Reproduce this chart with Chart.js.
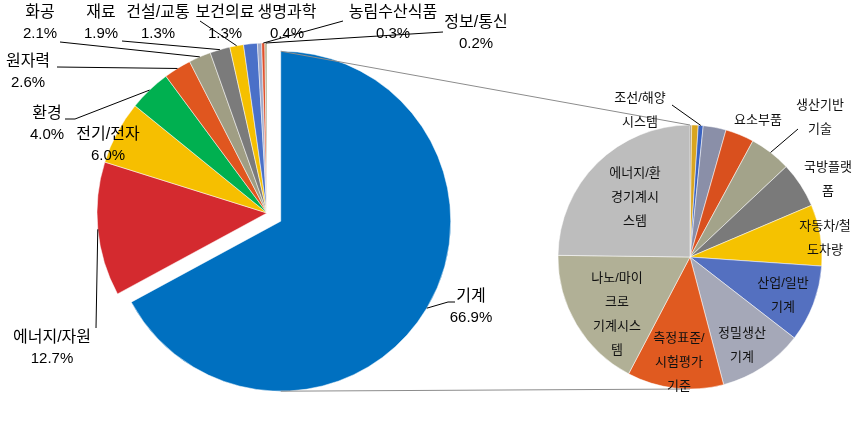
<!DOCTYPE html>
<html lang="ko">
<head>
<meta charset="utf-8">
<title>분야별 비중</title>
<script src="https://cdn.jsdelivr.net/npm/chart.js@4.4.1/dist/chart.umd.min.js"></script>
<style>
  html, body { margin: 0; padding: 0; background: #fff; }
  #wrap { position: relative; width: 859px; height: 430px; }
  #wrap canvas { position: absolute; left: 0; top: 0; }
</style>
</head>
<body>
<div id="wrap">
  <canvas id="mainPie" width="859" height="430"></canvas>
  <canvas id="subPie" width="859" height="430"></canvas>
</div>
<script>
// 전체 분야 (왼쪽 파이)
const mainLabels = ['기계', '에너지/자원', '전기/전자', '환경', '원자력', '화공', '재료', '건설/교통', '보건의료', '생명과학', '농림수산식품', '정보/통신'];
const mainValues = [66.9, 12.7, 6.0, 4.0, 2.6, 2.1, 1.9, 1.3, 1.3, 0.4, 0.3, 0.2];
const mainColors = ['#0070C0', '#D42A2F', '#F6BF00', '#00B050', '#E0561F', '#A09E84', '#7B7B7B', '#F5C000', '#4A70C8', '#A0AAC8', '#E0502A', '#B0B090'];

// 기계 세부 분야 (오른쪽 파이)
const subLabels = ['', '', '조선/해양시스템', '', '요소부품', '생산기반기술', '국방플랫폼', '자동차/철도차량', '산업/일반기계', '정밀생산기계', '측정표준/시험평가기준', '나노/마이크로기계시스템', '에너지/환경기계시스템'];
const subValues = [0.2, 0.8, 0.6, 2.8, 3.5, 5.1, 5.6, 7.5, 9.4, 10.4, 11.8, 17.5, 24.8];
const subColors = ['#7F6A4A', '#D9A520', '#3A62C0', '#8A8FA8', '#D9501E', '#A3A38A', '#7A7A7A', '#F5C200', '#5470C0', '#A5A8B8', '#E05A20', '#B1B096', '#BDBDBD'];
// 줄바꿈된 표시 텍스트
const subLines = [[], [], ['조선/해양', '시스템'], [], ['요소부품'], ['생산기반', '기술'], ['국방플랫', '폼'], ['자동차/철', '도차량'], ['산업/일반', '기계'], ['정밀생산', '기계'], ['측정표준/', '시험평가', '기준'], ['나노/마이', '크로', '기계시스', '템'], ['에너지/환', '경기계시', '스템']];

const EXPLODE = 16;
const FONT_NAME = '16px "Liberation Sans", "Noto Sans CJK KR", sans-serif';
const FONT_PCT = '15px "Liberation Sans", "Noto Sans CJK KR", sans-serif';
const FONT_SUB = '13px "Liberation Sans", "Noto Sans CJK KR", sans-serif';

// 라벨 위치 (파이 중심 기준)
const mainLayout = [
    { x: 204, y: 84, lead: [[188, 89], [181, 89]] },
    { x: -215, y: 125, lead: [[-171, 115]] },
    { x: -159, y: -78 },
    { x: -220, y: -99, lead: [[-202, -94], [-192, -94]] },
    { x: -239, y: -151, lead: [[-210, -146]] },
    { x: -227, y: -200, lead: [[-207, -171]] },
    { x: -166, y: -200, lead: [[-145, -172]] },
    { x: -109, y: -200, lead: [[-67, -192]] },
    { x: -42, y: -200 },
    { x: 20, y: -200 },
    { x: 126, y: -200, lead: [[76, -192]] },
    { x: 209, y: -190, lead: [[176, -181]] }
];
const subLayout = [
    null, null,
    { x: -50, y: -159, lead: [[-18, -152]] },
    null,
    { x: 68, y: -137 },
    { x: 130, y: -152, lead: [[108, -128]] },
    { x: 138, y: -90 },
    { x: 135, y: -31 },
    { x: 93, y: 26 },
    { x: 52, y: 76 },
    { x: -11, y: 81 },
    { x: -73, y: 21 },
    { x: -55, y: -84 }
];

function arcEdge(arc, r) {
    const mid = (arc.startAngle + arc.endAngle) / 2;
    return [arc.x + Math.cos(mid) * r, arc.y + Math.sin(mid) * r];
}

function drawLeader(ctx, cx, cy, pts, end) {
    ctx.save();
    ctx.strokeStyle = '#000';
    ctx.lineWidth = 1;
    ctx.beginPath();
    ctx.moveTo(cx + pts[0][0], cy + pts[0][1]);
    for (let i = 1; i < pts.length; i++) ctx.lineTo(cx + pts[i][0], cy + pts[i][1]);
    ctx.lineTo(end[0], end[1]);
    ctx.stroke();
    ctx.restore();
}

const explodePlugin = {
    id: 'explode',
    afterUpdate(chart) {
        const arc = chart.getDatasetMeta(0).data[0];
        const mid = (arc.startAngle + arc.endAngle) / 2;
        arc.x += Math.cos(mid) * EXPLODE;
        arc.y += Math.sin(mid) * EXPLODE;
    }
};

const mainLabelPlugin = {
    id: 'mainLabels',
    afterDraw(chart) {
        const ctx = chart.ctx;
        const area = chart.chartArea;
        const cx = (area.left + area.right) / 2;
        const cy = (area.top + area.bottom) / 2;
        const arcs = chart.getDatasetMeta(0).data;
        ctx.save();
        ctx.fillStyle = '#000';
        ctx.textAlign = 'center';
        ctx.textBaseline = 'middle';
        mainLabels.forEach((name, i) => {
            const l = mainLayout[i];
            if (!l) return;
            if (l.lead) drawLeader(ctx, cx, cy, l.lead, arcEdge(arcs[i], arcs[i].outerRadius));
            ctx.font = FONT_NAME;
            ctx.fillText(name, cx + l.x, cy + l.y);
            ctx.font = FONT_PCT;
            ctx.fillText(mainValues[i].toFixed(1) + '%', cx + l.x, cy + l.y + 21);
        });
        ctx.restore();
    }
};

const mainChart = new Chart(document.getElementById('mainPie'), {
    type: 'pie',
    data: {
        labels: mainLabels,
        datasets: [{
            data: mainValues,
            backgroundColor: mainColors,
            borderWidth: 0.5,
            borderColor: '#ffffff'
        }]
    },
    options: {
        responsive: false,
        animation: false,
        events: [],
        radius: 170,
        layout: { padding: { left: 0, right: 325, top: 0, bottom: 4 } },
        plugins: { legend: { display: false }, tooltip: { enabled: false } }
    },
    plugins: [explodePlugin, mainLabelPlugin]
});

const subLabelPlugin = {
    id: 'subLabels',
    afterDraw(chart) {
        const ctx = chart.ctx;
        const arcs = chart.getDatasetMeta(0).data;
        const cx = arcs[0].x;
        const cy = arcs[0].y;
        const r = arcs[0].outerRadius;

        // 두 파이를 잇는 선
        const blue = mainChart.getDatasetMeta(0).data[0];
        ctx.save();
        ctx.strokeStyle = '#8C8C8C';
        ctx.lineWidth = 1;
        ctx.beginPath();
        ctx.moveTo(blue.x + Math.cos(blue.startAngle) * blue.outerRadius, blue.y + Math.sin(blue.startAngle) * blue.outerRadius);
        ctx.lineTo(cx, cy - r);
        ctx.moveTo(blue.x, blue.y + blue.outerRadius);
        ctx.lineTo(cx, cy + r);
        ctx.stroke();
        ctx.restore();

        ctx.save();
        ctx.font = FONT_SUB;
        ctx.fillStyle = '#111';
        ctx.textAlign = 'center';
        ctx.textBaseline = 'middle';
        subLines.forEach((lines, i) => {
            const l = subLayout[i];
            if (!l || !lines.length) return;
            if (l.lead) drawLeader(ctx, cx, cy, l.lead, arcEdge(arcs[i], r));
            lines.forEach((t, k) => ctx.fillText(t, cx + l.x, cy + l.y + k * 24));
        });
        ctx.restore();
    }
};

const subChart = new Chart(document.getElementById('subPie'), {
    type: 'pie',
    data: {
        labels: subLabels,
        datasets: [{
            data: subValues,
            backgroundColor: subColors,
            borderWidth: 0.5,
            borderColor: '#ffffff'
        }]
    },
    options: {
        responsive: false,
        animation: false,
        events: [],
        radius: 132,
        layout: { padding: { left: 521, right: 0, top: 84, bottom: 0 } },
        plugins: { legend: { display: false }, tooltip: { enabled: false } }
    },
    plugins: [subLabelPlugin]
});
</script>
</body>
</html>
